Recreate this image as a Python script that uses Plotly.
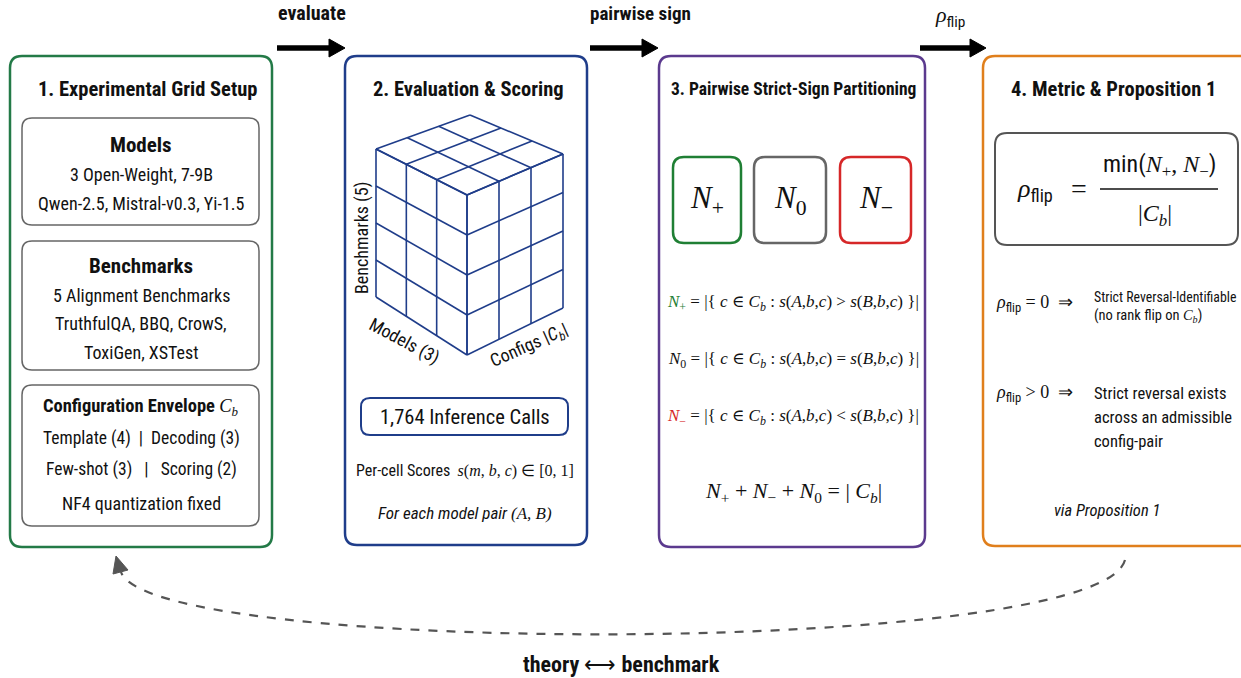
import plotly.graph_objects as go

W, H = 1241, 678

# ---------------- text content ----------------
flow_labels = ["evaluate", "pairwise sign"]
panel_titles = ["1. Experimental Grid Setup", "2. Evaluation & Scoring",
                "3. Pairwise Strict-Sign Partitioning", "4. Metric & Proposition 1"]
panel_colors = ["#237a47", "#1f3d8a", "#5b3a8e", "#e07f1c"]
models_lines = ["3 Open-Weight, 7-9B", "Qwen-2.5, Mistral-v0.3, Yi-1.5"]
bench_lines = ["5 Alignment Benchmarks", "TruthfulQA, BBQ, CrowS,", "ToxiGen, XSTest"]
config_lines = ["Template (4)  |  Decoding (3)", "Few-shot (3)   |   Scoring (2)", "NF4 quantization fixed"]
cube_counts = {"models": 3, "benchmarks": 4, "configs": 3}
cube_labels = ["Benchmarks (5)", "Models (3)", "Configs |<i>C<sub>b</sub></i>|"]
inference_calls = "1,764 Inference Calls"
sign_names = ["+", "0", "−"]
sign_colors = ["#1f7f34", "#666666", "#d62728"]
sign_ops = [">", "=", "<"]
footer = "theory <span style='font-family:Liberation Serif;font-weight:normal'>⟷</span> benchmark"

SANS = "Liberation Sans Narrow, Roboto Condensed, DejaVu Sans Condensed, Roboto, sans-serif"
SERIF = "Liberation Serif, DejaVu Serif, serif"

fig = go.Figure()
shapes = []
annos = []


def rrect(x0, y0, x1, y1, r, color, width, fill=None):
    p = (f"M{x0+r},{y0} L{x1-r},{y0} Q{x1},{y0} {x1},{y0+r} L{x1},{y1-r} "
         f"Q{x1},{y1} {x1-r},{y1} L{x0+r},{y1} Q{x0},{y1} {x0},{y1-r} "
         f"L{x0},{y0+r} Q{x0},{y0} {x0+r},{y0} Z")
    shapes.append(dict(type="path", path=p, xref="x", yref="y",
                       line=dict(color=color, width=width),
                       fillcolor=fill or "rgba(0,0,0,0)", layer="below"))


def txt(x, y, s, size=15, family=SANS, color="#111111", weight="normal",
        style="normal", xanchor="center", angle=0):
    annos.append(dict(x=x, y=y, xref="x", yref="y", text=s, showarrow=False,
                      xanchor=xanchor, yanchor="middle", textangle=angle,
                      borderpad=0,
                      font=dict(size=size, family=family, color=color,
                                weight=weight, style=style)))


def line(x0, y0, x1, y1, color, width, dash="solid"):
    shapes.append(dict(type="line", x0=x0, y0=y0, x1=x1, y1=y1, xref="x", yref="y",
                       line=dict(color=color, width=width, dash=dash)))


def tri(points, color):
    p = "M" + " L".join(f"{a},{b}" for a, b in points) + " Z"
    shapes.append(dict(type="path", path=p, xref="x", yref="y",
                       line=dict(color=color, width=1), fillcolor=color))


# ---------------- panels ----------------
panels = [(10, 56, 272, 547), (345, 56, 587, 545), (659, 56, 925, 547), (983, 56, 1262, 546)]
for (x0, y0, x1, y1), c in zip(panels, panel_colors):
    rrect(x0, y0, x1, y1, 12, c, 2.5)

title_x = [147, 468, 793, 1113]
title_sz = [20.5, 20.5, 17.5, 20.5]
for t, x, sz in zip(panel_titles, title_x, title_sz):
    txt(x, 89, t, size=sz, weight="bold")

# ---------------- top flow arrows ----------------
arrows = [(277, 345), (590, 658), (920, 986)]
for (a, b) in arrows:
    line(a, 48, b - 12, 48, "#000000", 5.5)
    tri([(b, 48), (b - 16, 39), (b - 16, 57)], "#000000")
txt(312, 13, flow_labels[0], size=20, weight="bold")
txt(640, 13, flow_labels[1], size=19, weight="bold")
txt(950, 16, "<span style='font-family:Liberation Serif'><i>ρ</i></span><sub>flip</sub>", size=22)

# ---------------- panel 1 ----------------
rrect(22, 118, 259, 225, 10, "#666666", 1.5)
rrect(22, 241, 259, 370, 10, "#666666", 1.5)
rrect(22, 385, 259, 526, 10, "#666666", 1.5)
cx1 = 141
txt(cx1, 145, "Models", size=21, weight="bold")
for s, y in zip(models_lines, [174, 203]):
    txt(cx1, y, s, size=18)
txt(cx1, 266, "Benchmarks", size=21, weight="bold")
for s, y in zip(bench_lines, [295, 323, 352]):
    txt(cx1, y, s, size=18)
txt(cx1, 407, "Configuration Envelope <span style='font-family:Liberation Serif;font-weight:normal'><i>C<sub>b</sub></i></span>",
    size=18.5, weight="bold")
for s, y, sz in zip(config_lines, [438, 469, 503], [17.5, 17.5, 18]):
    txt(cx1, y, s, size=sz)

# ---------------- panel 2: cube ----------------
T_back, T_left, T_right, T_front = (470, 115), (376, 149), (563, 154), (467, 195)
B_left, B_front, B_right = (376, 297), (467, 355), (563, 308)
cube_col = "#1f3d8a"


def lerp(p, q, t):
    return (p[0] + (q[0] - p[0]) * t, p[1] + (q[1] - p[1]) * t)


def quad_grid(a, b, c, d, nu, nv):
    for i in range(nu + 1):
        t = i / nu
        p, q = lerp(a, b, t), lerp(d, c, t)
        line(p[0], p[1], q[0], q[1], cube_col, 1.6)
    for j in range(nv + 1):
        t = j / nv
        p, q = lerp(a, d, t), lerp(b, c, t)
        line(p[0], p[1], q[0], q[1], cube_col, 1.6)


quad_grid(T_left, T_front, B_front, B_left, cube_counts["models"], cube_counts["benchmarks"])
quad_grid(T_front, T_right, B_right, B_front, cube_counts["configs"], cube_counts["benchmarks"])
quad_grid(T_left, T_back, T_right, T_front, cube_counts["configs"], cube_counts["models"])

txt(362, 238, cube_labels[0], size=18, angle=-90)
txt(404, 341, cube_labels[1], size=18, angle=28)
txt(529, 346, cube_labels[2], size=18, angle=-24)

rrect(361, 398, 568, 435, 9, cube_col, 2)
txt(465, 417, inference_calls, size=20.5)
txt(465, 470, "Per-cell Scores  <span style='font-family:Liberation Serif'><i>s</i>(<i>m</i>, <i>b</i>, <i>c</i>) ∈ [0, 1]</span>", size=16)
txt(465, 513, "For each model pair <span style='font-family:Liberation Serif'>(<i>A</i>, <i>B</i>)</span>", size=17, style="italic")

# ---------------- panel 3 ----------------
sign_boxes = [(673, 741), (754, 826), (840, 911)]
for (x0, x1), c, n in zip(sign_boxes, sign_colors, sign_names):
    rrect(x0, 157, x1, 243, 11, c, 2.5)
    txt((x0 + x1) / 2, 200, f"<i>N</i><sub>{n}</sub>", size=31, family=SERIF)

form_y = [303, 360, 417]
for n, c, op, y in zip(sign_names, sign_colors, sign_ops, form_y):
    lhs_col = c if n != "0" else "#111111"
    s = (f"<span style='color:{lhs_col}'><i>N</i><sub>{n}</sub></span> = |{{ <i>c</i> ∈ <i>C<sub>b</sub></i> : "
         f"<i>s</i>(<i>A</i>,<i>b</i>,<i>c</i>) {op} <i>s</i>(<i>B</i>,<i>b</i>,<i>c</i>) }}|")
    txt(793, y, s, size=17, family=SERIF)
txt(793, 492, "<i>N</i><sub>+</sub> + <i>N</i><sub>−</sub> + <i>N</i><sub>0</sub> = | <i>C<sub>b</sub></i>|", size=22, family=SERIF)

# ---------------- panel 4 ----------------
rrect(995, 133, 1238, 245, 12, "#555555", 2)
txt(1035, 190, "<span style='font-family:Liberation Serif'><i>ρ</i></span><sub>flip</sub>", size=26)
txt(1079, 188, "=", size=28, family=SERIF)
txt(1159, 165, "min(<span style='font-family:Liberation Serif'><i>N</i><sub>+</sub>, <i>N</i><sub>−</sub></span>)", size=24)
line(1100, 189, 1218, 189, "#111111", 1.6)
txt(1155, 215, "|<i>C<sub>b</sub></i>|", size=24, family=SERIF)

txt(995, 303, "<span style='font-family:Liberation Serif'><i>ρ</i></span><sub>flip</sub><span style='font-family:Liberation Serif'> = 0  ⇒</span>", size=18, xanchor="left")
txt(1093, 297, "Strict Reversal-Identifiable", size=13.8, xanchor="left")
txt(1093, 316, "(no rank flip on <span style='font-family:Liberation Serif'><i>C<sub>b</sub></i></span>)", size=14.5, xanchor="left")
txt(995, 393, "<span style='font-family:Liberation Serif'><i>ρ</i></span><sub>flip</sub><span style='font-family:Liberation Serif'> > 0  ⇒</span>", size=18, xanchor="left")
for s, y in zip(["Strict reversal exists", "across an admissible", "config-pair"], [393, 417, 441]):
    txt(1093, y, s, size=16.5, xanchor="left")
txt(1107, 510, "via Proposition 1", size=16.5, style="italic")

# ---------------- feedback arrow ----------------
shapes.append(dict(type="path", path="M1125,560 C1100,657 150,657 121,572",
                   xref="x", yref="y", line=dict(color="#555555", width=2.2, dash="dash")))
tri([(116, 556), (113, 574), (128, 570)], "#555555")
txt(621, 664, footer, size=22, weight="bold")

fig.update_layout(
    width=W, height=H, margin=dict(l=0, r=0, t=0, b=0),
    paper_bgcolor="white", plot_bgcolor="white",
    xaxis=dict(range=[0, W], visible=False, fixedrange=True),
    yaxis=dict(range=[H, 0], visible=False, fixedrange=True),
    shapes=shapes, annotations=annos, showlegend=False,
)
fig.write_html("out.html", config={"displayModeBar": False},
               post_script="document.body.style.margin='0';document.body.style.overflow='hidden';")
